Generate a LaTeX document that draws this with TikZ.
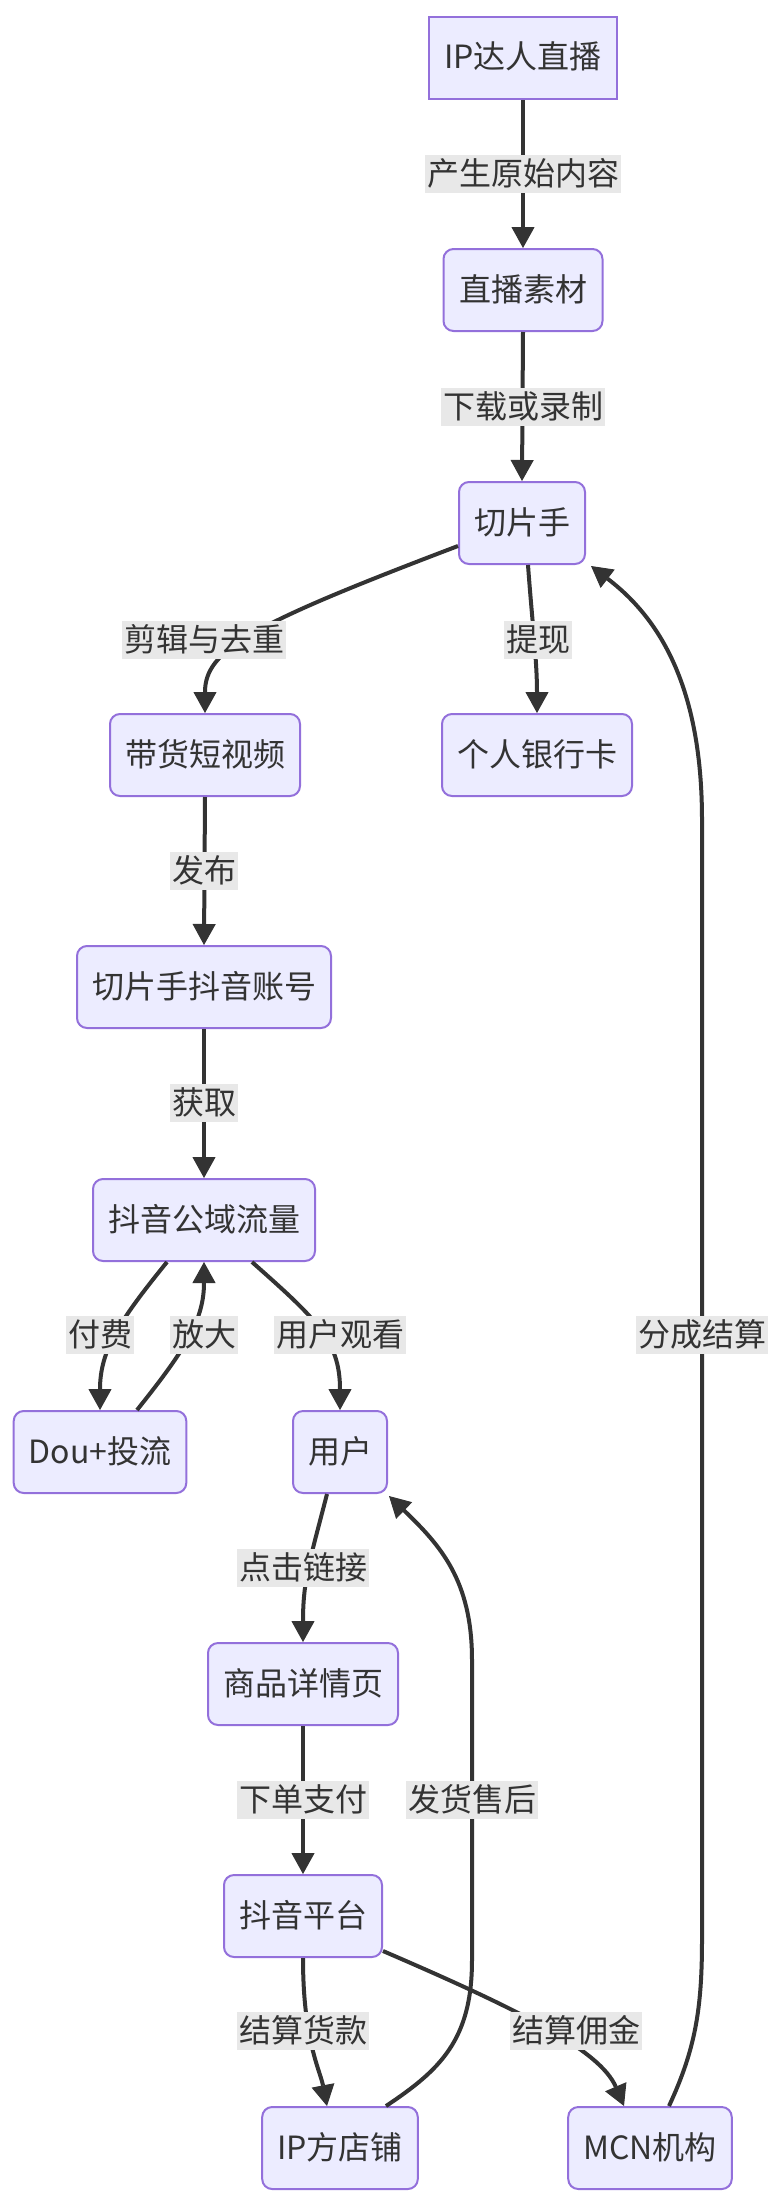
\documentclass[tikz,border=0pt]{standalone}
\usepackage{fontspec}
\setmainfont{Noto Sans CJK SC}
\usetikzlibrary{arrows.meta}
\definecolor{nfill}{HTML}{ECECFF}
\definecolor{nline}{HTML}{9370DB}
\definecolor{eline}{HTML}{333333}
\definecolor{lbg}{HTML}{E8E8E8}
\begin{document}
\begin{tikzpicture}[x=1pt,y=-1pt,
  box/.style={draw=nline, fill=nfill, line width=2pt, rounded corners=10pt,
    minimum height=82pt, inner xsep=15pt, inner ysep=0pt, text=eline,
    text height=27pt, text depth=5pt, font=\fontsize{32}{38}\selectfont},
  sbox/.style={box, rounded corners=0pt},
  lbl/.style={fill=lbg, inner xsep=2pt, inner ysep=3pt, text=eline,
    text height=27pt, text depth=5pt, font=\fontsize{32}{38}\selectfont},
  edge/.style={draw=eline, line width=4pt,
    -{Triangle[length=21pt,width=23pt,line width=1pt]}},
  plain/.style={draw=eline, line width=4pt}]
\useasboundingbox (0,0) rectangle (784,2208);

% nodes
\node[sbox, minimum width=186pt] (ip)  at (523,58)   {IP达人直播};
\node[box,  minimum width=159pt] (zb)  at (523,290)  {直播素材};
\node[box,  minimum width=124pt] (qps) at (522,523)  {切片手};
\node[box,  minimum width=190pt] (dh)  at (205,755)  {带货短视频};
\node[box,  minimum width=190pt] (yhk) at (537,755)  {个人银行卡};
\node[box,  minimum width=254pt] (dy)  at (204,987)  {切片手抖音账号};
\node[box,  minimum width=222pt] (gy)  at (204,1220) {抖音公域流量};
\node[box,  minimum width=165pt] (dou) at (100,1452) {Dou+投流};
\node[box,  minimum width=94pt]  (yh)  at (340,1452) {用户};
\node[box,  minimum width=190pt] (sp)  at (303,1684) {商品详情页};
\node[box,  minimum width=158pt] (pt)  at (303,1916) {抖音平台};
\node[box,  minimum width=153pt] (dp)  at (340,2148) {IP方店铺};
\node[box,  minimum width=157pt] (mcn) at (650,2148) {MCN机构};

% edges
\draw[edge] (ip.south) -- (zb.north);
\draw[edge] (zb.south) -- (qps.north);
\draw[edge] ([yshift=-23pt]qps.west) .. controls (250,625) and (205,650) .. (dh.north);
\draw[edge] ([xshift=6pt]qps.south) .. controls (532,620) and (537,660) .. (yhk.north);
\draw[edge] (dh.south) -- (dy.north);
\draw[edge] (dy.south) -- (gy.north);
\draw[edge] ([xshift=-37pt]gy.south) .. controls (120,1320) and (100,1350) .. (dou.north);
\draw[edge] ([xshift=37pt]dou.north) .. controls (185,1350) and (204,1320) .. (gy.south);
\draw[edge] ([xshift=48pt]gy.south) .. controls (315,1318) and (340,1340) .. (yh.north);
\draw[edge] ([xshift=-13pt]yh.south) .. controls (310,1560) and (303,1580) .. (sp.north);
\draw[edge] (sp.south) -- (pt.north);
\draw[edge] (pt.south) .. controls (303,2040) and (320,2070) .. ([xshift=-13pt]dp.north);
\draw[edge] ([yshift=7pt]pt.south east) .. controls (520,2010) and (600,2050) .. ([xshift=-26pt]mcn.north);
\draw[edge] ([xshift=46pt]dp.north) .. controls (440,2070) and (472,2040) .. (472,1960)
  -- (472,1660) .. controls (472,1580) and (440,1545) .. ([xshift=1pt,yshift=-2pt]yh.south east);
\draw[edge] ([xshift=19pt]mcn.north) .. controls (695,2050) and (702,2010) .. (702,1940)
  -- (702,820) .. controls (702,680) and (655,615) .. ([xshift=5pt,yshift=-1pt]qps.south east);

% labels
\node[lbl] (l1)  at (523,174)  {产生原始内容};
\node[lbl] (l2)  at (523,407)  {下载或录制};
\node[lbl] (l3)  at (204,640)  {剪辑与去重};
\node[lbl] (l4)  at (538,640)  {提现};
\node[lbl] (l5)  at (204,871)  {发布};
\node[lbl] (l6)  at (204,1103) {获取};
\node[lbl] (l7)  at (100,1335) {付费};
\node[lbl] (l8)  at (204,1335) {放大};
\node[lbl] (l9)  at (340,1335) {用户观看};
\node[lbl] (l10) at (702,1335) {分成结算};
\node[lbl] (l11) at (303,1568) {点击链接};
\node[lbl] (l12) at (303,1800) {下单支付};
\node[lbl] (l13) at (472,1800) {发货售后};
\node[lbl] (l14) at (303,2031) {结算货款};
\node[lbl] (l15) at (576,2031) {结算佣金};
\end{tikzpicture}
\end{document}
